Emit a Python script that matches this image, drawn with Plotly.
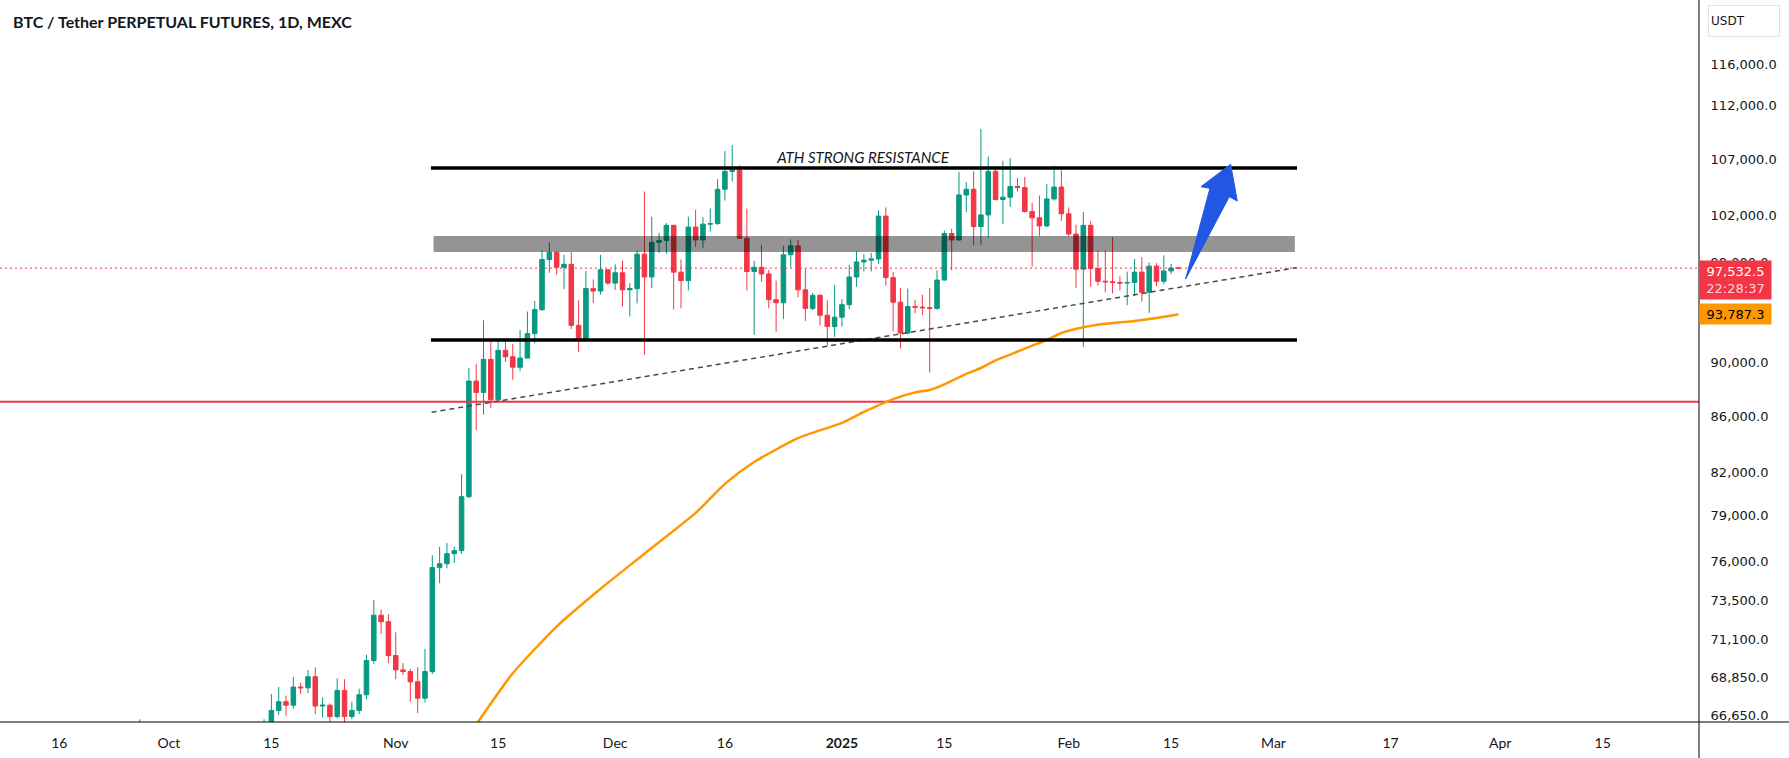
import numpy as np
import pandas as pd
import plotly.graph_objects as go

# ---------------- data ----------------
dates = [d.strftime("%Y-%m-%d") for d in pd.date_range("2024-09-25", "2025-02-16", freq="D")]

opens = [
    64250, 63150, 65200, 65800, 65850, 65600,
    63300, 60800, 60650, 60750, 62100, 62050, 62800, 62250, 62150, 60600, 60300, 62450, 63200, 62850,
    66050, 66950, 67450, 67250, 68300, 68250, 68900, 67200, 67250, 66600, 68100, 66600, 66950, 67850,
    69850, 72600, 72200,
    70150, 69300, 69200, 68600, 67650, 69200, 75600, 75850, 76500, 76700, 80300, 88600, 87750, 90250,
    87200, 90950, 90450, 89650, 90350, 92250, 94150, 98250, 98850, 97600, 97850, 92900, 91800, 95850,
    95650, 97400,
    96300, 97150, 95750, 95850, 98700, 96800, 99700, 99850, 101150, 97200, 96500, 101000, 99900, 101250,
    101300, 104300, 105900, 106000, 100050, 97250, 97600, 97050, 94950, 94700, 98650, 99400, 95750, 94250,
    95300, 93700, 92800,
    93550, 94550, 96800, 98050, 98200, 98300, 101950, 96750, 94750, 92300, 94400, 94350, 94300, 94250,
    96550, 100450, 99900, 103800, 104300, 101050, 102050, 105900, 103400, 103600, 104550, 104450, 102350,
    101800, 101100, 103450, 104500,
    102150, 100400, 97450, 101150, 97500, 96450, 96400, 96350, 96300, 96350, 97200, 95550, 97700, 96450,
    97300, 97540,
]
highs = [
    64800, 65800, 66450, 66250, 66080, 65650,
    64150, 62400, 61450, 62500, 62350, 63000, 64500, 63200, 62550, 61300, 63400, 63500, 63300, 66450,
    67900, 68300, 67800, 68900, 68550, 69300, 69450, 67700, 67350, 68800, 68750, 67450, 68200, 70200,
    73550, 72950, 72650,
    71550, 69700, 69350, 69450, 70550, 76400, 76950, 77200, 76950, 81850, 89600, 89900, 93300, 91650,
    91700, 91750, 91450, 92550, 94000, 94850, 99000, 99700, 98900, 98650, 98900, 94900, 97300, 96600,
    98650, 97450,
    97850, 98150, 96300, 99000, 104100, 101900, 100500, 101350, 101200, 98250, 101900, 102500, 101850, 102600,
    105200, 107750, 108300, 106450, 102600, 98150, 99500, 97400, 96500, 99400, 99950, 99900, 97500, 95500,
    95400, 94900, 96150,
    95000, 97800, 98950, 98700, 98800, 102450, 102700, 97200, 95900, 95850, 94950, 95350, 95900, 97350,
    100700, 100850, 105850, 104950, 105900, 109800, 107250, 106350, 106850, 107100, 105300, 105400, 103100,
    103750, 104750, 106400, 106000,
    102700, 101200, 102300, 101500, 99000, 99000, 100150, 96850, 97250, 98300, 98450, 98000, 97950, 98600,
    97900, 97650,
]
lows = [
    62950, 62700, 64800, 65400, 65450, 62850,
    60150, 60000, 59800, 60450, 61650, 61900, 62150, 61850, 60300, 58900, 60050, 62400, 62000, 62400,
    64800, 66700, 66650, 67050, 67900, 67950, 66750, 66550, 65250, 66500, 65550, 66450, 66750, 67600,
    69650, 71450, 69700,
    68750, 69000, 67450, 66800, 67400, 69050, 74600, 75550, 75900, 76500, 80200, 85000, 86100, 86600,
    87100, 90050, 88700, 89350, 90350, 91500, 94050, 97150, 97000, 95800, 92600, 90800, 91750, 94700,
    95350, 96150,
    95750, 94400, 93600, 94650, 90600, 95900, 98800, 98750, 94150, 94250, 95700, 99300, 99200, 100600,
    101200, 103300, 105000, 100000, 95700, 92150, 96400, 94250, 92400, 93400, 97600, 95150, 93250, 94100,
    92900, 91300, 92000,
    92800, 94200, 96000, 97250, 97250, 97900, 96100, 92450, 91100, 92200, 93850, 93700, 89250, 94150,
    96500, 97350, 99850, 102300, 99450, 99500, 100100, 103300, 101250, 102750, 104100, 102250, 97650,
    100250, 101000, 103300, 101550,
    100250, 95900, 91200, 96000, 96100, 95550, 95450, 95700, 94500, 95250, 94800, 93900, 96050, 96200,
    97050, 97450,
]
closes = [
    63150, 65200, 65800, 65850, 65600, 63300,
    60800, 60650, 60750, 62100, 62050, 62800, 62250, 62150, 60600, 60300, 62450, 63200, 62850, 66050,
    66950, 67450, 67250, 68300, 68250, 68900, 67200, 67250, 66600, 68100, 66600, 66950, 67850, 69850,
    72600, 72200, 70150,
    69300, 69200, 68600, 67650, 69200, 75600, 75850, 76500, 76700, 80300, 88600, 87750, 90250, 87200,
    90950, 90450, 89650, 90350, 92250, 94150, 98250, 98850, 97600, 97850, 92900, 91800, 95850, 95650,
    97400, 96300,
    97150, 95750, 95850, 98700, 96800, 99700, 99850, 101150, 97200, 96500, 101000, 99900, 101250, 101300,
    104300, 105900, 106000, 100050, 97250, 97600, 97050, 94950, 94700, 98650, 99400, 95750, 94250, 95300,
    93700, 92800, 93550,
    94550, 96800, 98050, 98200, 98300, 101950, 96750, 94750, 92300, 94400, 94350, 94300, 94250, 96550,
    100450, 99900, 103800, 104300, 101050, 102050, 105900, 103400, 103600, 104550, 104450, 102350, 101800,
    101100, 103450, 104500, 102150,
    100400, 97450, 101150, 97500, 96450, 96400, 96350, 96300, 96350, 97200, 95550, 97700, 96450, 97300,
    97540, 97532.5,
]

# moving average line
ma_dates = ["2024-11-10", "2024-11-12", "2024-11-17", "2024-11-23", "2024-11-29", "2024-12-05",
            "2024-12-12", "2024-12-16", "2024-12-20", "2024-12-26", "2025-01-01", "2025-01-04",
            "2025-01-08", "2025-01-11", "2025-01-13", "2025-01-15", "2025-01-18", "2025-01-20",
            "2025-01-22", "2025-01-24", "2025-01-27", "2025-01-29", "2025-01-31", "2025-02-03",
            "2025-02-06", "2025-02-08", "2025-02-10", "2025-02-13", "2025-02-16"]
ma_values = [65000, 66160, 69100, 71900, 74250, 76500,
             79200, 81180, 82700, 84400, 85500, 86300,
             87250, 87750, 87930, 88350, 89150, 89590,
             90180, 90620, 91310, 91750, 92300, 92750,
             93030, 93140, 93250, 93480, 93787.3]

# drawings
resistance_price = 106200
support_price = 91750
level_dates = ["2024-11-05 19:30", "2025-03-04 05:00"]
zone_dates = ["2024-11-06 04:00", "2025-03-03 22:00"]
zone_prices = [98880, 100240]
trend_dates = ["2024-11-05 21:40", "2025-03-04 04:00"]
trend_prices = [86280, 97570]
red_level = 87060
last_price = 97532.5
last_ma = 93787.3
countdown = "22:28:37"
label_date = "2025-01-03 21:00"
label_price = 107020
label_text = "ATH STRONG RESISTANCE"
arrow_dates = ["2025-02-16 23:45", "2025-02-20 07:26", "2025-02-19 01:55", "2025-02-23 03:22",
               "2025-02-24 01:00", "2025-02-22 22:48", "2025-02-16 23:45"]
arrow_prices = [96635, 104387, 104529, 106540, 103265, 103644, 96635]

x_range = ["2024-09-07 21:36", "2025-04-28 04:00"]
y_range_prices = [66295, 122521]
x_tick_dates = ["2024-09-16", "2024-10-01", "2024-10-15", "2024-11-01", "2024-11-15", "2024-12-01",
                "2024-12-16", "2025-01-01", "2025-01-15", "2025-02-01", "2025-02-15", "2025-03-01",
                "2025-03-17", "2025-04-01", "2025-04-15"]
x_tick_text = ["16", "Oct", "15", "Nov", "15", "Dec", "16", "<b>2025</b>", "15", "Feb", "15", "Mar",
               "17", "Apr", "15"]
y_tick_values = [66650, 68850, 71100, 73500, 76000, 79000, 82000, 86000, 90000, 98000,
                 102000, 107000, 112000, 116000]

title_text = "BTC / Tether PERPETUAL FUTURES, 1D, MEXC"

# ---------------- figure ----------------
GREEN = "#089981"
RED = "#F23645"
ORANGE = "#FF9800"
TXT = "#131722"

W, H = 1789, 758
ML, MR, MT, MB = 0, 90, 0, 36
PW, PH = W - ML - MR, H - MT - MB

ylog = [np.log10(v) for v in y_range_prices]


def ypaper(p):
    return (np.log10(p) - ylog[0]) / (ylog[1] - ylog[0])


fig = go.Figure()

fig.add_trace(go.Candlestick(
    x=dates, open=opens, high=highs, low=lows, close=closes,
    increasing=dict(line=dict(color=GREEN, width=1), fillcolor=GREEN),
    decreasing=dict(line=dict(color=RED, width=1), fillcolor=RED),
    whiskerwidth=0, showlegend=False, hoverinfo="skip",
))

# red horizontal level
fig.add_trace(go.Scatter(x=x_range, y=[red_level, red_level], mode="lines",
                         line=dict(color=RED, width=2), showlegend=False, hoverinfo="skip"))
# last price dotted line
fig.add_trace(go.Scatter(x=x_range, y=[last_price, last_price], mode="lines",
                         line=dict(color=RED, width=1, dash="2px,3px"), showlegend=False, hoverinfo="skip"))
# moving average
fig.add_trace(go.Scatter(x=ma_dates, y=ma_values, mode="lines",
                         line=dict(color=ORANGE, width=2.5, shape="spline", smoothing=0.6),
                         showlegend=False, hoverinfo="skip"))
# dashed trendline
fig.add_trace(go.Scatter(x=trend_dates, y=trend_prices, mode="lines",
                         line=dict(color="#4a4a4a", width=1.5, dash="5px,4px"),
                         showlegend=False, hoverinfo="skip"))
# grey zone
fig.add_trace(go.Scatter(
    x=[zone_dates[0], zone_dates[1], zone_dates[1], zone_dates[0], zone_dates[0]],
    y=[zone_prices[0], zone_prices[0], zone_prices[1], zone_prices[1], zone_prices[0]],
    mode="lines", fill="toself", fillcolor="rgba(0,0,0,0.42)", line=dict(width=0),
    showlegend=False, hoverinfo="skip"))
# resistance / support lines
for lv in (resistance_price, support_price):
    fig.add_trace(go.Scatter(x=level_dates, y=[lv, lv], mode="lines",
                             line=dict(color="#000000", width=3.5), showlegend=False, hoverinfo="skip"))
# arrow
fig.add_trace(go.Scatter(x=arrow_dates, y=arrow_prices, mode="lines", fill="toself",
                         fillcolor="#2157E3", line=dict(color="#2157E3", width=1),
                         showlegend=False, hoverinfo="skip"))
# label text
fig.add_trace(go.Scatter(x=[label_date], y=[label_price], mode="text", text=[label_text],
                         textposition="middle center",
                         textfont=dict(family="Lato", size=15, color=TXT, style="italic"),
                         showlegend=False, hoverinfo="skip", cliponaxis=False))

annotations = [
    dict(xref="paper", yref="paper", x=11 / PW, y=1 - 21 / PH, xanchor="left", yanchor="middle",
         text="<b>" + title_text + "</b>", showarrow=False,
         font=dict(family="Lato", size=16, color=TXT)),
    dict(xref="paper", yref="paper", x=1 + 9 / PW, y=1 - 21.5 / PH, xanchor="left", yanchor="middle",
         text="USDT", showarrow=False, align="left", width=66, height=26, borderpad=2,
         bordercolor="#E0E3EB", borderwidth=1, bgcolor="#FFFFFF",
         font=dict(family="DejaVu Sans", size=12, color=TXT)),
    dict(xref="paper", yref="paper", x=1, y=ypaper(last_price), xanchor="left", yanchor="top", yshift=8,
         text=f"{last_price:,.1f}<br><span style='color:#FCD3D7'>{countdown}</span>", showarrow=False,
         align="center", width=67, height=34, borderpad=2, bgcolor=RED,
         font=dict(family="DejaVu Sans", size=13, color="#FFFFFF")),
    dict(xref="paper", yref="paper", x=1, y=ypaper(last_ma), xanchor="left", yanchor="middle",
         text=f"{last_ma:,.1f}", showarrow=False, align="center", width=67, height=16, borderpad=2,
         bgcolor=ORANGE, font=dict(family="DejaVu Sans", size=13, color="#000000")),
]

shapes = [
    dict(type="line", xref="paper", yref="paper", x0=0, x1=W / PW, y0=0, y1=0,
         line=dict(color="#000000", width=1), layer="above"),
    dict(type="line", xref="paper", yref="paper", x0=1, x1=1, y0=-MB / PH, y1=1,
         line=dict(color="#000000", width=1), layer="above"),
]

fig.update_layout(
    width=W, height=H, autosize=False,
    margin=dict(l=ML, r=MR, t=MT, b=MB, pad=0),
    paper_bgcolor="#FFFFFF", plot_bgcolor="#FFFFFF",
    showlegend=False, boxgap=0.38, boxgroupgap=0,
    annotations=annotations, shapes=shapes,
    xaxis=dict(type="date", range=x_range, rangeslider=dict(visible=False),
               showgrid=False, zeroline=False, showline=False,
               tickmode="array", tickvals=x_tick_dates, ticktext=x_tick_text,
               ticks="outside", ticklen=8, tickcolor="rgba(0,0,0,0)",
               tickfont=dict(family="Lato", size=14, color=TXT)),
    yaxis=dict(type="log", range=ylog, side="right", showgrid=False, zeroline=False, showline=False,
               tickmode="array", tickvals=y_tick_values,
               ticktext=[f"{v:,.1f}" for v in y_tick_values],
               ticks="outside", ticklen=8, tickcolor="rgba(0,0,0,0)",
               tickfont=dict(family="DejaVu Sans", size=13, color=TXT)),
)

fig.write_html("out.html")
